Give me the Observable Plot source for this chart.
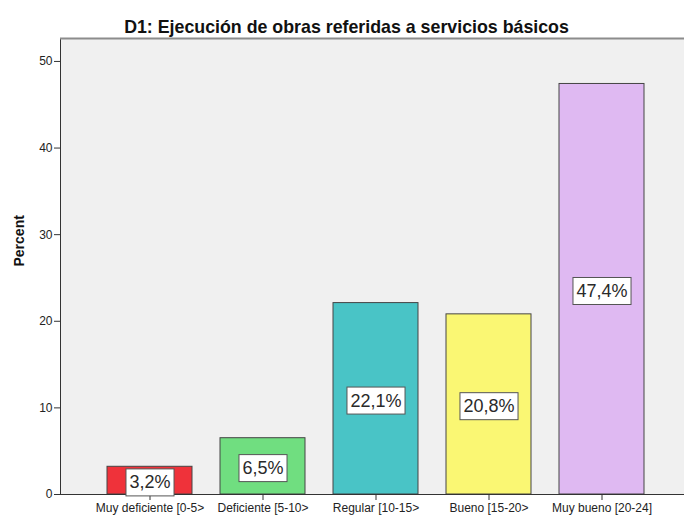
<!DOCTYPE html>
<html>
<head>
<meta charset="utf-8">
<script src="https://cdn.jsdelivr.net/npm/d3@7"></script>
<script src="https://cdn.jsdelivr.net/npm/@observablehq/plot@0.6"></script>
<style>
  html, body { margin: 0; padding: 0; background: white; overflow: hidden; }
  #chart svg { overflow: hidden; }
</style>
</head>
<body>
<div id="chart"></div>
<script>
const title = "D1: Ejecución de obras referidas a servicios básicos";
const yLabel = "Percent";
const categories = ["Muy deficiente [0-5>", "Deficiente [5-10>", "Regular [10-15>", "Bueno [15-20>", "Muy bueno [20-24]"];
const percents = [3.2, 6.5, 22.1, 20.8, 47.4];
const labels = ["3,2%", "6,5%", "22,1%", "20,8%", "47,4%"];
const colors = ["#ef323a", "#70de80", "#49c4c6", "#faf773", "#dfb9f2"];
const yTicks = [0, 10, 20, 30, 40, 50];
const yMax = 52.65;

const data = categories.map((c, i) => ({cat: c, value: percents[i], label: labels[i], color: colors[i]}));

const chart = Plot.plot({
  width: 684,
  height: 518,
  marginLeft: 60,
  marginRight: -8,
  marginTop: 38,
  marginBottom: 24,
  style: {fontFamily: "'Liberation Sans', Arial, sans-serif", background: "white", color: "#222"},
  x: {domain: categories, paddingInner: 0.247, paddingOuter: 0.4, label: null},
  y: {domain: [0, yMax], label: null},
  marks: [
    Plot.frame({fill: "#f0f0f0", stroke: "#333", strokeWidth: 1}),
    Plot.ruleY([yMax], {stroke: "#8c8c8c", strokeWidth: 2}),
    Plot.barY(data, {x: "cat", y: "value", fill: "color", stroke: "#444", strokeWidth: 1}),
    Plot.ruleY([0], {stroke: "#333"}),
    Plot.axisY({ticks: yTicks, tickSize: 6, tickPadding: 2, fontSize: 12, label: null, stroke: "#333", fill: "#222"}),
    Plot.axisX({tickSize: 6, tickPadding: 3, fontSize: 12, label: null, stroke: "#333", fill: "#222"}),
    Plot.text(data, {x: "cat", y: d => d.value / 2, text: "label", fontSize: 18, fill: "#2a2a2a", dy: 2}),
    Plot.text([title], {frameAnchor: "top-left", dx: 286, dy: -18, textAnchor: "middle", fontSize: 17.8, fontWeight: "bold", fill: "#111"}),
    Plot.text([yLabel], {frameAnchor: "left", dx: -41, rotate: -90, fontSize: 14, fontWeight: "bold", fill: "#111"})
  ]
});
document.getElementById("chart").appendChild(chart);

// white boxes behind the value labels
const groups = Array.from(chart.querySelectorAll('g[aria-label="text"]'));
const valueGroup = groups.find(g => g.querySelectorAll("text").length === data.length);
if (valueGroup) {
  valueGroup.querySelectorAll("text").forEach(t => {
    const b = t.getBBox();
    const padX = 3.5, padY = 3.5;
    const r = document.createElementNS("http://www.w3.org/2000/svg", "rect");
    r.setAttribute("x", b.x - padX);
    r.setAttribute("y", b.y - padY);
    r.setAttribute("width", b.width + 2 * padX);
    r.setAttribute("height", b.height + 2 * padY);
    r.setAttribute("fill", "white");
    r.setAttribute("stroke", "#555");
    r.setAttribute("stroke-width", "1");
    const tr = t.getAttribute("transform");
    if (tr) r.setAttribute("transform", tr);
    t.parentNode.insertBefore(r, t);
  });
}
</script>
</body>
</html>
